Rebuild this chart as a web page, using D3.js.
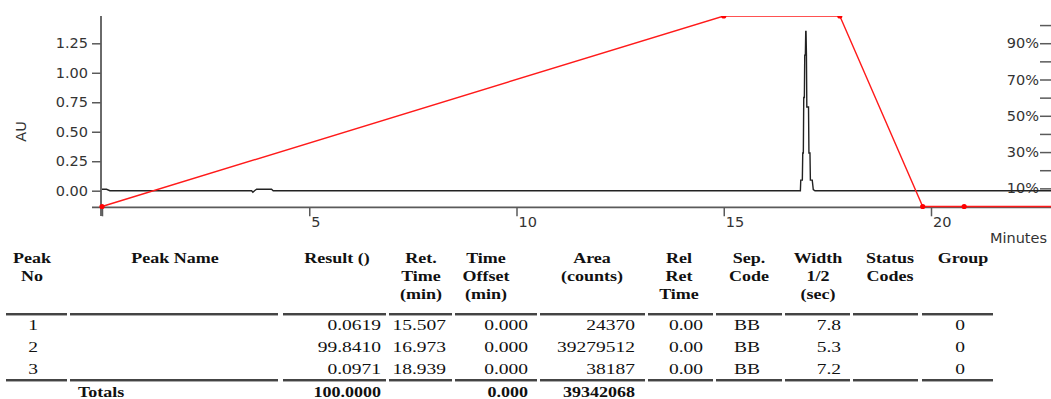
<!DOCTYPE html>
<html>
<head>
<meta charset="utf-8">
<script src="https://cdn.jsdelivr.net/npm/d3@7"></script>
<style>
  html, body { margin: 0; padding: 0; background: #fff; }
  svg { display: block; }
</style>
</head>
<body>
<svg id="chart" width="1051" height="399"></svg>
<script>
// ---- chromatogram trace (retention time in minutes, absorbance in AU) ----
const traceTime = [0.00, 0.11, 0.19, 3.61, 3.64, 3.68, 3.73, 4.09, 4.13,
  16.849, 16.858, 16.896, 16.906, 16.920, 16.930, 16.945, 16.954, 16.969, 16.978, 16.985,
  16.995, 17.004, 17.045, 17.055, 17.080, 17.090, 17.135, 17.160, 17.200, 23.0];
const traceAU = [0.012, 0.012, 0.0, 0.0, -0.013, 0.0, 0.012, 0.012, 0.0,
  0.0, 0.09, 0.09, 0.32, 0.32, 0.79, 0.79, 1.15, 1.15, 1.35, 1.35,
  1.15, 0.71, 0.71, 0.32, 0.32, 0.09, 0.09, 0.01, 0.0, 0.0];

// ---- gradient program (minutes, % solvent) ----
const gradTime = [0, 15.0, 17.8, 19.8, 20.8, 23.0];
const gradPct = [0, 105, 105, 0, 0, 0];

// ---- axis ticks ----
const auTicks = [0, 0.25, 0.5, 0.75, 1.0, 1.25];
const minuteTicks = [0, 5, 10, 15, 20];
const pctTicks = [10, 20, 30, 40, 50, 60, 70, 80, 90, 100];
const pctLabelled = [10, 30, 50, 70, 90];

// ---- peak table ----
const tableHeaders = [["Peak", "No"], ["Peak Name"], ["Result ()"], ["Ret.", "Time", "(min)"],
  ["Time", "Offset", "(min)"], ["Area", "(counts)"], ["Rel", "Ret", "Time"], ["Sep.", "Code"],
  ["Width", "1/2", "(sec)"], ["Status", "Codes"], ["Group"]];
const peakNo = [1, 2, 3];
const peakName = ["", "", ""];
const peakResult = [0.0619, 99.8410, 0.0971];
const peakRetTime = [15.507, 16.973, 18.939];
const peakTimeOffset = [0.000, 0.000, 0.000];
const peakArea = [24370, 39279512, 38187];
const peakRelRetTime = [0.00, 0.00, 0.00];
const peakSepCode = ["BB", "BB", "BB"];
const peakWidthHalf = [7.8, 5.3, 7.2];
const peakStatusCodes = ["", "", ""];
const peakGroup = [0, 0, 0];
const totalsLabel = "Totals";
const totalResult = 100.0000;
const totalTimeOffset = 0.000;
const totalArea = 39342068;

// ================= drawing =================
const svg = d3.select("#chart");
const AXIS = "#5a5a5a";
const SANS = "'DejaVu Sans', sans-serif";
const SERIF = "'Liberation Serif', 'Times New Roman', serif";

const plotTop = 16, plotBottom = 207.3, plotRight = 1051;
const x = d3.scaleLinear().domain([0, 20]).range([102, 931]);
const y = d3.scaleLinear().domain([0, 1.25]).range([190.7, 43.3]);
const p = d3.scaleLinear().domain([0, 105]).range([206.5, plotTop]);

svg.append("defs").append("clipPath").attr("id", "plotClip")
  .append("rect").attr("x", 90).attr("y", plotTop).attr("width", plotRight - 90).attr("height", 200);

// left AU axis
const gy = svg.append("g").attr("transform", "translate(101,0)")
  .call(d3.axisLeft(y).tickValues(auTicks).tickFormat(d3.format(".2f")).tickSize(9).tickPadding(4));
gy.select(".domain").remove();
gy.selectAll(".tick line").attr("stroke", AXIS).attr("stroke-width", 1.5);
gy.selectAll(".tick text").attr("fill", "#333").style("font", `14.5px ${SANS}`);
svg.append("line").attr("x1", 101).attr("x2", 101).attr("y1", plotTop).attr("y2", 216)
  .attr("stroke", AXIS).attr("stroke-width", 1.8);

// bottom minutes axis
svg.append("line").attr("x1", 92).attr("x2", plotRight).attr("y1", plotBottom).attr("y2", plotBottom)
  .attr("stroke", AXIS).attr("stroke-width", 1.8);
const gx = svg.append("g").attr("transform", `translate(0,${plotBottom})`)
  .call(d3.axisBottom(x).tickValues(minuteTicks).tickFormat(d => d === 0 ? "" : d).tickSize(9).tickPadding(0));
gx.select(".domain").remove();
gx.selectAll(".tick line").attr("stroke", AXIS).attr("stroke-width", 1.5);
gx.selectAll(".tick text").attr("fill", "#333").attr("text-anchor", "start").attr("x", 1.5)
  .style("font", `14.5px ${SANS}`);

// right percent axis
const gp = svg.append("g").attr("transform", `translate(${plotRight},0)`)
  .call(d3.axisLeft(p).tickValues(pctTicks).tickSize(11).tickPadding(1)
    .tickFormat(d => pctLabelled.includes(d) ? d + "%" : ""));
gp.select(".domain").remove();
gp.selectAll(".tick line").attr("stroke", AXIS).attr("stroke-width", 1.5);
gp.selectAll(".tick text").attr("fill", "#333").style("font", `14.5px ${SANS}`);

// axis titles
svg.append("text").attr("transform", "translate(21,131.5) rotate(-90)")
  .attr("text-anchor", "middle").attr("dy", "0.35em").attr("fill", "#333")
  .style("font", `14.5px ${SANS}`).text("AU");
svg.append("text").attr("x", 1047).attr("y", 243).attr("text-anchor", "end").attr("fill", "#333")
  .style("font", `14.5px ${SANS}`).text("Minutes");

// chromatogram trace
const trace = traceTime.map((t, i) => [t, traceAU[i]]);
svg.append("path").datum(trace)
  .attr("clip-path", "url(#plotClip)")
  .attr("fill", "none").attr("stroke", "#222").attr("stroke-width", 1.4)
  .attr("d", d3.line().x(d => x(d[0])).y(d => y(d[1])));

// gradient program line with step markers
const grad = gradTime.map((t, i) => [t, gradPct[i]]);
const gg = svg.append("g").attr("clip-path", "url(#plotClip)");
gg.append("path").datum(grad)
  .attr("fill", "none").attr("stroke", "#ff1a1a").attr("stroke-width", 1.4)
  .attr("d", d3.line().x(d => x(d[0])).y(d => p(d[1])));
gg.selectAll("circle").data(grad).join("circle")
  .attr("cx", d => x(d[0])).attr("cy", d => p(d[1])).attr("r", 2.6).attr("fill", "#ff0000");

// ================= peak table =================
const cols = [
  { rule: [6, 67],    hx: 32,  anchor: "middle", vx: 33 },
  { rule: [70, 278],  hx: 175, anchor: "start",  vx: 78 },
  { rule: [283, 386], hx: 337, anchor: "end",    vx: 381 },
  { rule: [389, 452], hx: 421, anchor: "end",    vx: 446 },
  { rule: [455, 537], hx: 486, anchor: "end",    vx: 528 },
  { rule: [540, 645], hx: 592, anchor: "end",    vx: 635 },
  { rule: [648, 713], hx: 679, anchor: "end",    vx: 703 },
  { rule: [716, 782], hx: 749, anchor: "middle", vx: 747 },
  { rule: [785, 850], hx: 818, anchor: "end",    vx: 841 },
  { rule: [853, 918], hx: 890, anchor: "middle", vx: 885 },
  { rule: [922, 993], hx: 963, anchor: "middle", vx: 960 }
];
const headBase = [263, 281, 299];
const rowBase = [330, 352, 374];
const totalsBase = 396.5;
const ruleTop = 314, ruleBottom = 380;
const HEAD_SCALE = 1.2, BODY_SCALE = 1.3;
const FONT_SIZE = 15;

const tbl = svg.append("g");
function cell(xp, yp, str, anchor, bold, sx) {
  tbl.append("text")
    .attr("transform", `translate(${xp},${yp}) scale(${sx},1)`)
    .attr("text-anchor", anchor).attr("fill", "#111")
    .style("font", `${bold ? "bold " : ""}${FONT_SIZE}px ${SERIF}`)
    .text(str);
}

tableHeaders.forEach((lines, c) => {
  lines.forEach((ln, k) => cell(cols[c].hx, headBase[k], ln, "middle", true, HEAD_SCALE));
});

[ruleTop, ruleBottom].forEach(ry => {
  cols.forEach(col => {
    tbl.append("line").attr("x1", col.rule[0]).attr("x2", col.rule[1]).attr("y1", ry).attr("y2", ry)
      .attr("stroke", "#444").attr("stroke-width", 2);
    tbl.append("line").attr("x1", col.rule[0]).attr("x2", col.rule[1]).attr("y1", ry + 1.5).attr("y2", ry + 1.5)
      .attr("stroke", "#aaa").attr("stroke-width", 1);
  });
});

const rowColumns = [
  peakNo.map(String),
  peakName,
  peakResult.map(v => v.toFixed(4)),
  peakRetTime.map(v => v.toFixed(3)),
  peakTimeOffset.map(v => v.toFixed(3)),
  peakArea.map(String),
  peakRelRetTime.map(v => v.toFixed(2)),
  peakSepCode,
  peakWidthHalf.map(v => v.toFixed(1)),
  peakStatusCodes,
  peakGroup.map(String)
];
rowColumns.forEach((vals, c) => {
  vals.forEach((v, r) => { if (v !== "") cell(cols[c].vx, rowBase[r], v, cols[c].anchor, false, BODY_SCALE); });
});

cell(cols[1].vx, totalsBase, totalsLabel, "start", true, HEAD_SCALE);
cell(cols[2].vx, totalsBase, totalResult.toFixed(4), "end", true, HEAD_SCALE);
cell(cols[4].vx, totalsBase, totalTimeOffset.toFixed(3), "end", true, HEAD_SCALE);
cell(cols[5].vx, totalsBase, String(totalArea), "end", true, HEAD_SCALE);
</script>
</body>
</html>
